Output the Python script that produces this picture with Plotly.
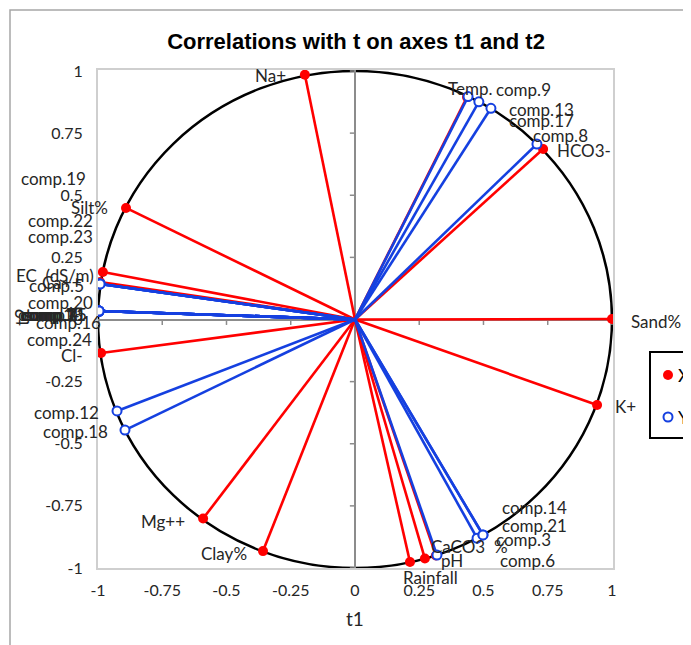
import plotly.graph_objects as go

# ---------------- data ----------------
x_names = ["Na+", "Temp.", "HCO3-", "Sand%", "K+", "CaCO3  %", "pH", "Rainfall",
           "Clay%", "Mg++", "Cl-", "Ca++", "EC  (dS/m)", "Silt%"]
x_t1 = [-0.195, 0.436, 0.732, 1.000, 0.942, 0.315, 0.272, 0.214,
        -0.358, -0.591, -0.988, -0.992, -0.981, -0.891]
x_t2 = [0.985, 0.895, 0.686, 0.002, -0.344, -0.950, -0.962, -0.976,
        -0.932, -0.801, -0.135, 0.151, 0.191, 0.449]

y_names = ["comp.9", "comp.13", "comp.17", "comp.8",
           "comp.6", "comp.3", "comp.14", "comp.21",
           "comp.12", "comp.18",
           "comp.19", "comp.22", "comp.23", "comp.5",
           "comp.20", "comp.1", "comp.2", "comp.4", "comp.7", "comp.10",
           "comp.11", "comp.15", "comp.16", "comp.24"]
y_t1 = [0.440, 0.482, 0.529, 0.708,
        0.319, 0.475, 0.498, 0.498,
        -0.926, -0.895,
        -0.992, -0.992, -0.992, -0.992,
        -0.996, -0.996, -0.996, -0.996, -0.996, -0.996,
        -0.996, -0.996, -0.996, -0.996]
y_t2 = [0.897, 0.876, 0.850, 0.706,
        -0.948, -0.880, -0.867, -0.867,
        -0.368, -0.445,
        0.143, 0.143, 0.143, 0.143,
        0.034, 0.034, 0.034, 0.034, 0.034, 0.034,
        0.034, 0.034, 0.034, 0.034]

x_ticks = [-1, -0.75, -0.5, -0.25, 0, 0.25, 0.5, 0.75, 1]
y_ticks = [-1, -0.75, -0.5, -0.25, 0, 0.25, 0.5, 0.75, 1]

series_names = ["X", "Y"]

# label anchor positions (in t1/t2 units), as placed in the original chart
label_pos = {
    "Na+": (-0.327, 0.982), "Temp.": (0.447, 0.930), "HCO3-": (0.891, 0.682),
    "Sand%": (1.171, -0.010), "K+": (1.051, -0.352), "CaCO3  %": (0.447, -0.915),
    "pH": (0.377, -0.968), "Rainfall": (0.292, -1.040), "Clay%": (-0.510, -0.940),
    "Mg++": (-0.747, -0.811), "Cl-": (-1.101, -0.143), "Ca++": (-1.140, 0.147),
    "EC  (dS/m)": (-1.167, 0.179), "Silt%": (-1.035, 0.449),
    "comp.9": (0.654, 0.924), "comp.13": (0.724, 0.847), "comp.17": (0.724, 0.799),
    "comp.8": (0.798, 0.742), "comp.6": (0.673, -0.968), "comp.3": (0.654, -0.887),
    "comp.14": (0.697, -0.755), "comp.21": (0.697, -0.827),
    "comp.12": (-1.121, -0.376), "comp.18": (-1.089, -0.449),
    "comp.19": (-1.175, 0.569), "comp.22": (-1.144, 0.400), "comp.23": (-1.144, 0.332),
    "comp.5": (-1.163, 0.135), "comp.20": (-1.144, 0.070),
    "comp.1": (-1.195, 0.022), "comp.2": (-1.187, 0.022), "comp.4": (-1.179, 0.022),
    "comp.7": (-1.191, 0.022), "comp.10": (-1.183, 0.022), "comp.11": (-1.175, 0.022),
    "comp.15": (-1.171, 0.022), "comp.16": (-1.113, -0.014), "comp.24": (-1.148, -0.082),
}

RED = "#FF0000"
BLUE = "#1540E0"
TXT = "#262626"
W, H = 691, 645
OFF = 8  # page body margin


def fx(px):
    return (px - OFF) / W


def fy(py):
    return 1 - (py - OFF) / H


XDOM = [fx(98), fx(613)]
YDOM = [fy(568), fy(70)]
XR = [-1, 1.004]
YR = [-1, 1.004]


def to_paper(u, v):
    px = XDOM[0] + (u - XR[0]) / (XR[1] - XR[0]) * (XDOM[1] - XDOM[0])
    py = YDOM[0] + (v - YR[0]) / (YR[1] - YR[0]) * (YDOM[1] - YDOM[0])
    return px, py


def vec(xs, ys):
    vx, vy = [], []
    for a, b in zip(xs, ys):
        vx += [0, a, None]
        vy += [0, b, None]
    return vx, vy


red_marker = dict(color=RED, size=10, line=dict(width=0))
blue_marker = dict(color="white", size=9, line=dict(color=BLUE, width=2))

fig = go.Figure()

rx, ry = vec(x_t1, x_t2)
bx, by = vec(y_t1, y_t2)
fig.add_trace(go.Scatter(x=rx, y=ry, mode="lines", line=dict(color=RED, width=2.6),
                         showlegend=False, hoverinfo="skip"))
fig.add_trace(go.Scatter(x=x_t1, y=x_t2, mode="markers", text=x_names, name="X",
                         marker=red_marker, showlegend=False))
fig.add_trace(go.Scatter(x=bx, y=by, mode="lines", line=dict(color=BLUE, width=2.6),
                         showlegend=False, hoverinfo="skip"))
fig.add_trace(go.Scatter(x=y_t1, y=y_t2, mode="markers", text=y_names, name="Y",
                         marker=blue_marker, showlegend=False))

# ----- legend box (drawn by hand so it can be clipped at the right edge like the original)
LEG_X0, LEG_Y0, LEG_Y1 = 650, 352, 438
LEG_KEY_X, LEG_TXT_X = 668, 677
LEG_ROWS = [375, 417]
fig.add_trace(go.Scatter(x=[LEG_KEY_X], y=[LEG_ROWS[0]], mode="markers", marker=red_marker,
                         xaxis="x2", yaxis="y2", showlegend=False, hoverinfo="skip"))
fig.add_trace(go.Scatter(x=[LEG_KEY_X], y=[LEG_ROWS[1]], mode="markers", marker=blue_marker,
                         xaxis="x2", yaxis="y2", showlegend=False, hoverinfo="skip"))

annotations = []
for n in x_names + y_names:
    px, py = to_paper(*label_pos[n])
    annotations.append(dict(x=px, y=py, xref="paper", yref="paper", text=n, showarrow=False,
                            xanchor="center", yanchor="middle",
                            font=dict(family="Lato", size=17, color=TXT)))
annotations.append(dict(x=fx(355), y=fy(618), xref="paper", yref="paper", text="t1",
                        showarrow=False, xanchor="center", yanchor="middle",
                        font=dict(family="Lato", size=19, color=TXT)))
annotations.append(dict(x=fx(21), y=fy(317), xref="paper", yref="paper", text="t2",
                        textangle=-90, showarrow=False, xanchor="center", yanchor="middle",
                        font=dict(family="Lato", size=19, color=TXT)))
for name, row in zip(series_names, LEG_ROWS):
    annotations.append(dict(x=fx(LEG_TXT_X), y=fy(row), xref="paper", yref="paper",
                            text=name, showarrow=False, xanchor="left", yanchor="middle",
                            borderpad=0, font=dict(family="Lato", size=18, color="black")))

shapes = [
    dict(type="circle", xref="x", yref="y", x0=-1, y0=-1, x1=1, y1=1,
         line=dict(color="black", width=2.5), layer="below"),
    dict(type="rect", xref="paper", yref="paper", x0=fx(10), y0=-0.05, x1=1.05, y1=fy(10),
         line=dict(color="#a6a6a6", width=1.5), layer="below"),
    dict(type="rect", xref="paper", yref="paper", x0=fx(LEG_X0), y0=fy(LEG_Y1), x1=1.05,
         y1=fy(LEG_Y0), line=dict(color="black", width=2), fillcolor="white", layer="below"),
]
for v in x_ticks:
    shapes.append(dict(type="line", xref="x", yref="y", x0=v, x1=v, y0=0, y1=-0.022,
                       line=dict(color="#8c8c8c", width=1.5), layer="below"))
for v in y_ticks:
    shapes.append(dict(type="line", xref="x", yref="y", y0=v, y1=v, x0=0, x1=-0.02,
                       line=dict(color="#8c8c8c", width=1.5), layer="below"))

fig.update_layout(
    width=W, height=H,
    margin=dict(l=0, r=0, t=0, b=0, pad=0, autoexpand=False),
    paper_bgcolor="white", plot_bgcolor="rgba(0,0,0,0)",
    title=dict(text="<b>Correlations with t on axes t1 and t2</b>", x=fx(356), xanchor="center",
               y=fy(41), yanchor="middle", xref="paper", yref="paper",
               font=dict(family="Liberation Sans", size=22, color="black")),
    xaxis=dict(domain=XDOM, range=XR, tickvals=x_ticks,
               ticktext=[f"{v:g}" for v in x_ticks], showgrid=False,
               zeroline=True, zerolinecolor="#8c8c8c", zerolinewidth=2,
               showline=True, mirror=True, linecolor="#cfcfcf", linewidth=2,
               ticks="", ticklabelstandoff=7, automargin=False,
               tickfont=dict(family="Lato", size=16, color=TXT)),
    yaxis=dict(domain=YDOM, range=YR, tickvals=y_ticks,
               ticktext=[f"{v:g}" for v in y_ticks], showgrid=False,
               zeroline=True, zerolinecolor="#8c8c8c", zerolinewidth=2,
               showline=True, mirror=True, linecolor="#cfcfcf", linewidth=2,
               ticks="", ticklabelstandoff=10, automargin=False,
               tickfont=dict(family="Lato", size=16, color=TXT)),
    xaxis2=dict(domain=[0, 1], range=[OFF, W + OFF], visible=False, anchor="y2",
                fixedrange=True),
    yaxis2=dict(domain=[0, 1], range=[H + OFF, OFF], visible=False, anchor="x2",
                fixedrange=True),
    showlegend=False,
    annotations=annotations,
    shapes=shapes,
)

fig.write_html("out.html")
